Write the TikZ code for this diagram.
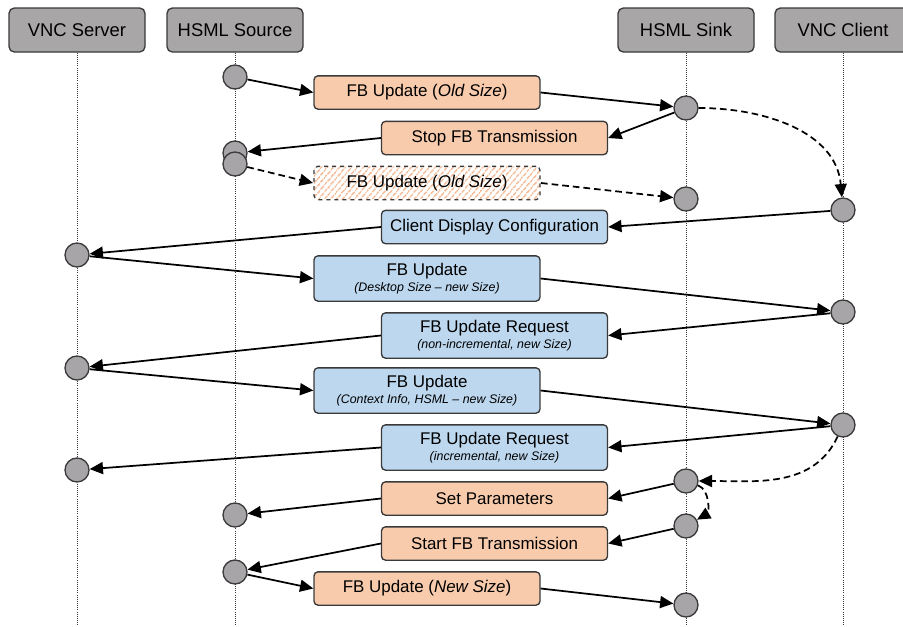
\documentclass[tikz,border=0pt]{standalone}
\usepackage{fontspec}
\setmainfont{Liberation Sans}
\usetikzlibrary{arrows.meta,patterns.meta}
\definecolor{hdrgray}{HTML}{A9A6A8}
\definecolor{dotgray}{HTML}{A7A5A7}
\definecolor{msgorange}{HTML}{F8CBAD}
\definecolor{hatchorange}{HTML}{F4BE9C}
\definecolor{msgblue}{HTML}{BDD7EE}
\definecolor{edgegray}{HTML}{3A3A3A}
\tikzset{hdr/.style={rectangle,rounded corners=4pt,draw=edgegray,line width=1pt,fill=hdrgray,minimum width=102pt,minimum height=33pt,inner sep=0pt,font=\fontsize{13.8}{16}\selectfont}}
\tikzset{dot/.style={circle,draw=edgegray,line width=1pt,fill=dotgray,minimum size=18pt,inner sep=0pt}}
\tikzset{msg/.style={rectangle,rounded corners=3pt,draw=edgegray,line width=1pt,minimum width=169.5pt,minimum height=25pt,inner sep=1pt,align=center,font=\fontsize{12.7}{15}\selectfont}}
\tikzset{tallmsg/.style={msg,minimum height=34pt,font=\fontsize{12.7}{12}\selectfont}}
\tikzset{orng/.style={fill=msgorange}, blu/.style={fill=msgblue}}
\tikzset{hatch/.style={dashed,pattern={Lines[angle=50,distance=4pt,line width=1.5pt]},pattern color=hatchorange}}
\tikzset{arr/.style={-{Triangle[length=10pt,width=9pt]},line width=1.3pt}}
\tikzset{darr/.style={arr,dash pattern=on 5pt off 3pt}}
\tikzset{life/.style={densely dotted,line width=0.6pt,draw=edgegray}}
\newcommand{\subline}[1]{\\{\fontsize{9.3}{11}\selectfont\itshape #1}}

\begin{document}
\begin{tikzpicture}[x=0.75pt,y=-0.75pt]
        \useasboundingbox (0,0) rectangle (903,626);
        % lifelines
        \coordinate (srvend) at (77,626);
        \coordinate (srcend) at (235,626);
        \coordinate (snkend) at (686,626);
        \coordinate (cliend) at (843,626);
        \node[hdr] (srv) at (77,30) {VNC Server};
        \node[hdr] (src) at (235,30) {HSML Source};
        \node[hdr] (snk) at (686,30) {HSML Sink};
        \node[hdr] (cli) at (843,30) {VNC Client};
        \draw [life] (srv) -- (srvend);
        \draw [life] (src) -- (srcend);
        \draw [life] (snk) -- (snkend);
        \draw [life] (cli) -- (cliend);

        % events on the lifelines
        \node[dot] (s1) at (235,77) {};
        \node[dot] (k1) at (686,108) {};
        \node[dot] (s2) at (235,153) {};
        \node[dot] (s3) at (235,164) {};
        \node[dot] (k2) at (686,199) {};
        \node[dot] (c1) at (843,210) {};
        \node[dot] (v1) at (77,255) {};
        \node[dot] (c2) at (843,312) {};
        \node[dot] (v2) at (77,368) {};
        \node[dot] (c3) at (843,425) {};
        \node[dot] (v3) at (77,470) {};
        \node[dot] (k3) at (686,481) {};
        \node[dot] (s4) at (235,515) {};
        \node[dot] (k4) at (686,526) {};
        \node[dot] (s5) at (235,572) {};
        \node[dot] (k5) at (686,605) {};

        % messages
        \node[msg,orng] (m1) at (427,92.5) {FB Update (\textit{Old Size})};
        \node[msg,orng] (m2) at (494.5,138) {Stop FB Transmission};
        \node[msg,hatch] (m3) at (427,183) {FB Update (\textit{Old Size})};
        \node[msg,blu] (m4) at (494.5,227) {Client Display Configuration};
        \node[tallmsg,blu] (m5) at (427,278.5) {FB Update\subline{(Desktop Size -- new Size)}};
        \node[tallmsg,blu] (m6) at (494.5,335.5) {FB Update Request\subline{(non-incremental, new Size)}};
        \node[tallmsg,blu] (m7) at (427,390.5) {FB Update\subline{(Context Info, HSML -- new Size)}};
        \node[tallmsg,blu] (m8) at (494.5,447.5) {FB Update Request\subline{(incremental, new Size)}};
        \node[msg,orng] (m9) at (494.5,498.5) {Set Parameters};
        \node[msg,orng] (m10) at (494.5,543.5) {Start FB Transmission};
        \node[msg,orng] (m11) at (427,588.5) {FB Update (\textit{New Size})};

        \draw [arr] (s1) to (m1.west);
        \draw [arr] (m1.east) to (k1);
        \draw [arr] (k1) to (m2.east);
        \draw [arr] (m2.west) to (s2);
        \draw [darr] (s3) to (m3.west);
        \draw [darr] (m3.east) to (k2);
        \draw [darr] (k1) to [out=0,in=95] (c1);
        \draw [arr] (c1) to (m4.east);
        \draw [arr] (m4.west) to (v1);
        \draw [arr] (v1) to (m5.west);
        \draw [arr] (m5.east) to (c2);
        \draw [arr] (c2) to (m6.east);
        \draw [arr] (m6.west) to (v2);
        \draw [arr] (v2) to (m7.west);
        \draw [arr] (m7.east) to (c3);
        \draw [arr] (c3) to (m8.east);
        \draw [arr] (m8.west) to (v3);
        \draw [darr] (c3) to [out=-115,in=0] (k3);
        \draw [arr] (k3) to (m9.east);
        \draw [arr] (m9.west) to (s4);
        \draw [darr] (k3) to [out=-20,in=30] (k4);
        \draw [arr] (k4) to (m10.east);
        \draw [arr] (m10.west) to (s5);
        \draw [arr] (s5) to (m11.west);
        \draw [arr] (m11.east) to (k5);
    \end{tikzpicture}
\end{document}
